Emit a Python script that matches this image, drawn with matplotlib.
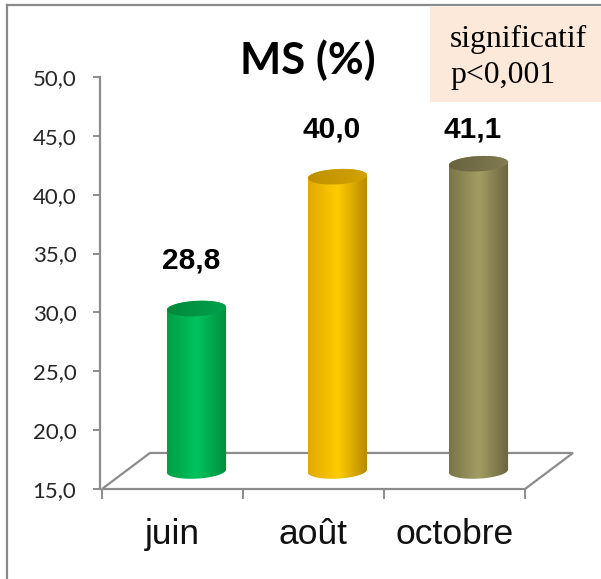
import numpy as np
import matplotlib
matplotlib.use("Agg")
import matplotlib.pyplot as plt
from matplotlib.patches import Polygon, Rectangle
from matplotlib.lines import Line2D
from matplotlib.colors import to_rgb

# ---- data ----
categories = ["juin", "août", "octobre"]
values = [28.8, 40.0, 41.1]
value_labels = ["28,8", "40,0", "41,1"]
yticks = [15, 20, 25, 30, 35, 40, 45, 50]
ytick_labels = ["15,0", "20,0", "25,0", "30,0", "35,0", "40,0", "45,0", "50,0"]
title = "MS (%)"
note_lines = ["significatif", "p<0,001"]

# ---- style ----
bar_colors = [  # left, light, right, top-left, top-right
    ("#00A045", "#00C25F", "#008E3D", "#008A3B", "#00A24D"),
    ("#E2A900", "#FFCC00", "#B78900", "#BE9000", "#D3A300"),
    ("#7A7449", "#A39D63", "#6A6440", "#68623F", "#827C52"),
]
label_off = [5.6, 5.5, 4.4]

W, H = 601, 579
fig = plt.figure(figsize=(W / 100, H / 100), dpi=100)
fig.patch.set_facecolor("white")

# axes in pixel geometry
ax_l, ax_r, ax_b, ax_t = 100, 580, 489, 77
ax = fig.add_axes([ax_l / W, (H - ax_b) / H, (ax_r - ax_l) / W, (ax_b - ax_t) / H])
ax.set_facecolor("none")
xmin, xmax = -0.514, 2.89
ymin, ymax = 15, 50

dx, dy = 0.17, 1.53       # half depth offsets (data units)
a, b, s = 0.21, 0.65, 0.6  # cylinder half width, ellipse half height, tilt

gray = "#8C8C8C"

# floor
floor = Polygon([(-0.5, ymin), (2.5, ymin), (2.5 + 2 * dx, ymin + 2 * dy),
                 (-0.5 + 2 * dx, ymin + 2 * dy)], closed=True,
                facecolor="white", edgecolor=gray, lw=1.6, zorder=1, clip_on=False)
ax.add_patch(floor)


def grad_img(cols, n=64):
    stops = np.linspace(0, 1, len(cols))
    rgb = np.array([to_rgb(c) for c in cols])
    xs = np.linspace(0, 1, n)
    arr = np.stack([np.interp(xs, stops, rgb[:, k]) for k in range(3)], axis=-1)
    return arr[np.newaxis, :, :]


for i, v in enumerate(values):
    cx = i + dx
    yb = ymin + dy
    yt = v + dy
    c = bar_colors[i]
    t1 = np.linspace(np.pi, 2 * np.pi, 60)
    xb = cx + a * np.cos(t1)
    ybp = yb + b * np.sin(t1) + s * (xb - cx)
    t2 = np.linspace(0, np.pi, 60)
    xt = cx + a * np.cos(t2)
    ytp = yt + b * np.sin(t2) + s * (xt - cx)
    body = np.vstack([np.column_stack([xb, ybp]), np.column_stack([xt, ytp])])
    bp = Polygon(body, closed=True, facecolor="none", edgecolor="none", zorder=3)
    ax.add_patch(bp)
    im = ax.imshow(grad_img([c[0], c[1], c[2]]), extent=[cx - a, cx + a, yb - 2, yt + 2],
                   aspect="auto", interpolation="bilinear", zorder=3, origin="lower")
    im.set_clip_path(bp)
    # top ellipse
    t3 = np.linspace(0, 2 * np.pi, 120)
    xe = cx + a * np.cos(t3)
    ye = yt + b * np.sin(t3) + s * (xe - cx)
    tp = Polygon(np.column_stack([xe, ye]), closed=True, facecolor="none",
                 edgecolor="none", zorder=4)
    ax.add_patch(tp)
    im2 = ax.imshow(grad_img([c[3], c[4]]), extent=[cx - a, cx + a, yt - 2, yt + 2],
                    aspect="auto", interpolation="bilinear", zorder=4, origin="lower")
    im2.set_clip_path(tp)
    # value label
    ax.text(i + 0.13, v + label_off[i], value_labels[i], ha="center", va="center",
            fontsize=21.5, fontweight="bold", family="Liberation Sans", color="black",
            zorder=6)

ax.set_xlim(xmin, xmax)
ax.set_ylim(ymin, ymax)

for sp in ["top", "right", "bottom"]:
    ax.spines[sp].set_visible(False)
ax.spines["left"].set_color(gray)
ax.spines["left"].set_linewidth(1.6)

ax.set_yticks(yticks)
ax.set_yticklabels(ytick_labels, family="Lato", fontsize=16, color="#262626")
ax.tick_params(axis="y", direction="out", length=5, width=1.4, color=gray, pad=12)

ax.set_xticks([-0.5, 0.5, 1.5, 2.5])
ax.set_xticklabels([])
ax.tick_params(axis="x", which="major", direction="out", length=7.5, width=1.4, color=gray)
ax.set_xticks([0, 1, 2], minor=True)
ax.set_xticklabels(categories, minor=True, family="Liberation Sans", fontsize=25.5,
                   color="#111111")
ax.tick_params(axis="x", which="minor", length=0, pad=21)

# title
fig.text(308 / W, 1 - 60 / H, title, ha="center", va="center", fontsize=31.5,
         fontweight="bold", family="Lato", color="black")

# note box
fig.patches.append(Rectangle((430 / W, 1 - 102 / H), (W - 430) / W, 95 / H,
                             transform=fig.transFigure, facecolor="#FDE9D9",
                             edgecolor="none", zorder=0))
fig.text(450 / W, 1 - 47 / H, note_lines[0], ha="left", va="baseline",
         family="Liberation Serif", fontsize=22.8, color="black")
fig.text(450 / W, 1 - 83 / H, note_lines[1], ha="left", va="baseline",
         family="Liberation Serif", fontsize=22.8, color="black")

# frame
fig.lines.append(Line2D([7 / W, 1], [1 - 5 / H, 1 - 5 / H], transform=fig.transFigure,
                        color="#8A8A8A", lw=1.6))
fig.lines.append(Line2D([7 / W, 7 / W], [0, 1 - 5 / H], transform=fig.transFigure,
                        color="#8A8A8A", lw=1.6))

fig.savefig("out.png", dpi=100)
